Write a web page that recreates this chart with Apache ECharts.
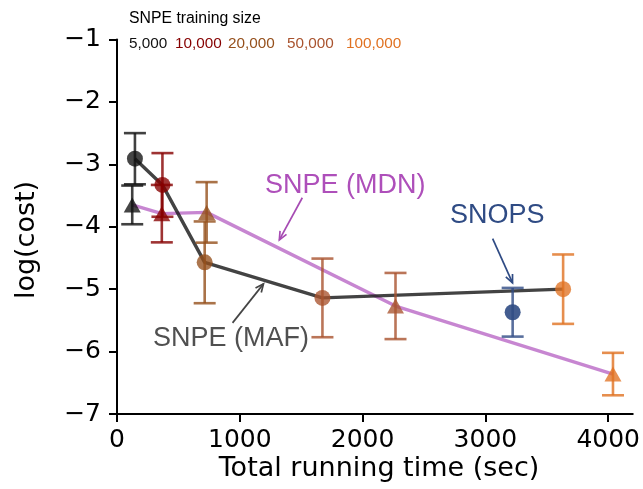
<!DOCTYPE html>
<html>
<head>
<meta charset="utf-8">
<script src="https://cdn.jsdelivr.net/npm/echarts@6/dist/echarts.min.js"></script>
<style>
  html, body { margin: 0; padding: 0; background: #fff; }
  #chart { width: 643px; height: 489px; }
</style>
</head>
<body>
<div id="chart"></div>
<script>
// SNPE training sizes and their colours
const trainingSizes = ['5,000', '10,000', '20,000', '50,000', '100,000'];
const sizeColors = ['#111111', '#860000', '#95501c', '#a9532e', '#e07222'];

// SNPE (MAF): running time (sec), log(cost) mean and error
const mafTime = [146, 370, 714, 1673, 3633];
const mafMean = [-2.91, -3.33, -4.57, -5.14, -5.00];
const mafErr  = [0.41, 0.51, 0.655, 0.63, 0.556];

// SNPE (MDN)
const mdnTime = [124, 365, 730, 2268, 4039];
const mdnMean = [-3.65, -3.79, -3.77, -5.27, -6.36];
const mdnErr  = [0.31, 0.46, 0.485, 0.53, 0.34];

// SNOPS
const snopsTime = [3222];
const snopsMean = [-5.37];
const snopsErr  = [0.39];
const snopsColor = '#2f4b84';

// axis ticks
const xTicks = [0, 1000, 2000, 3000, 4000];
const yTicks = [-7, -6, -5, -4, -3, -2, -1];

// annotation arrows: [fromTime, fromCost, toTime, toCost, colour]
const arrows = [
  [1509, -3.535, 1322, -4.21, '#a64bb3'],
  [941, -5.54, 1193, -4.915, '#444444'],
  [3059, -4.19, 3221, -4.90, snopsColor]
];

const chart = echarts.init(document.getElementById('chart'), null, { renderer: 'canvas' });

function errRows(times, means, errs, colors) {
  return times.map((t, i) => [t, means[i] - errs[i], means[i] + errs[i], colors[i]]);
}

function errorBarItem(params, api) {
  const x = api.value(0);
  const lo = api.coord([x, api.value(1)]);
  const hi = api.coord([x, api.value(2)]);
  const color = api.value(3);
  const half = 11;
  const style = { stroke: color, lineWidth: 2.6, opacity: 0.8 };
  return {
    type: 'group',
    children: [
      { type: 'line', shape: { x1: lo[0], y1: lo[1], x2: hi[0], y2: hi[1] }, style },
      { type: 'line', shape: { x1: lo[0] - half, y1: lo[1], x2: lo[0] + half, y2: lo[1] }, style },
      { type: 'line', shape: { x1: hi[0] - half, y1: hi[1], x2: hi[0] + half, y2: hi[1] }, style }
    ]
  };
}

// open "->" arrow from one data point to another
function arrowItem(params, api) {
  const a = api.coord([api.value(0), api.value(1)]);
  const b = api.coord([api.value(2), api.value(3)]);
  const color = arrows[params.dataIndex][4];
  const ang = Math.atan2(b[1] - a[1], b[0] - a[0]);
  const len = 9, spread = 0.42;
  const p1 = [b[0] - len * Math.cos(ang - spread), b[1] - len * Math.sin(ang - spread)];
  const p2 = [b[0] - len * Math.cos(ang + spread), b[1] - len * Math.sin(ang + spread)];
  const style = { stroke: color, lineWidth: 1.7, fill: null };
  return {
    type: 'group',
    children: [
      { type: 'line', shape: { x1: a[0], y1: a[1], x2: b[0], y2: b[1] }, style },
      { type: 'polyline', shape: { points: [p1, b, p2] }, style }
    ]
  };
}

function pointRows(times, means, colors) {
  return times.map((t, i) => ({ value: [t, means[i]], itemStyle: { color: colors[i] } }));
}

const minusFmt = v => (v < 0 ? '\u2212' + Math.abs(v) : String(v));

const textFont = '"Liberation Sans", Arial, sans-serif';
const axisFont = '"DejaVu Sans", sans-serif';

const legendX = [129, 175, 228, 287, 346];

chart.setOption({
  animation: false,
  backgroundColor: '#fff',
  grid: { left: 117, right: 9, top: 39.5, bottom: 75 },
  xAxis: {
    type: 'value', min: 0, max: 4200, interval: 1000,
    axisLine: { show: true, onZero: false, lineStyle: { color: '#000', width: 2 } },
    axisTick: { show: true, length: 8, customValues: xTicks, lineStyle: { color: '#000', width: 2 } },
    axisLabel: { customValues: xTicks, color: '#000', fontSize: 25, fontFamily: axisFont, margin: 14, formatter: v => String(v) },
    splitLine: { show: false }
  },
  yAxis: {
    type: 'value', min: -7, max: -1, interval: 1,
    axisLine: { show: true, onZero: false, lineStyle: { color: '#000', width: 2 } },
    axisTick: { show: true, length: 8, customValues: yTicks, lineStyle: { color: '#000', width: 2 } },
    axisLabel: { customValues: yTicks, color: '#000', fontSize: 25, fontFamily: axisFont, margin: 16, formatter: minusFmt },
    splitLine: { show: false }
  },
  series: [
    {
      name: 'SNPE (MDN)', type: 'line', z: 2, symbol: 'none',
      data: mdnTime.map((t, i) => [t, mdnMean[i]]),
      lineStyle: { color: '#b45ec2', width: 3.4, opacity: 0.75 }
    },
    {
      name: 'SNPE (MAF)', type: 'line', z: 2, symbol: 'none',
      data: mafTime.map((t, i) => [t, mafMean[i]]),
      lineStyle: { color: '#1a1a1a', width: 3.4, opacity: 0.82 }
    },
    {
      type: 'custom', z: 3, renderItem: errorBarItem,
      encode: { x: 0, y: [1, 2] },
      data: errRows(mafTime, mafMean, mafErr, sizeColors)
    },
    {
      type: 'custom', z: 3, renderItem: errorBarItem,
      encode: { x: 0, y: [1, 2] },
      data: errRows(mdnTime, mdnMean, mdnErr, sizeColors)
    },
    {
      type: 'custom', z: 3, renderItem: errorBarItem,
      encode: { x: 0, y: [1, 2] },
      data: errRows(snopsTime, snopsMean, snopsErr, [snopsColor])
    },
    {
      type: 'scatter', z: 4, symbol: 'circle', symbolSize: 16,
      itemStyle: { opacity: 0.78 },
      data: pointRows(mafTime, mafMean, sizeColors)
    },
    {
      type: 'scatter', z: 4, symbol: 'triangle', symbolSize: [17, 15],
      itemStyle: { opacity: 0.78 },
      data: pointRows(mdnTime, mdnMean, sizeColors)
    },
    {
      type: 'scatter', z: 4, symbol: 'circle', symbolSize: 16,
      itemStyle: { opacity: 0.9 },
      data: pointRows(snopsTime, snopsMean, [snopsColor])
    },
    {
      type: 'custom', z: 5, silent: true, renderItem: arrowItem,
      encode: { x: [0, 2], y: [1, 3] },
      data: arrows.map(a => [a[0], a[1], a[2], a[3]])
    }
  ],
  graphic: [
    { type: 'text', left: 129, top: 11, style: { text: 'SNPE training size', font: '15.8px ' + textFont, fill: '#000' } },
    ...trainingSizes.map((s, i) => ({
      type: 'text', left: legendX[i], top: 36,
      style: { text: s, font: '15.3px ' + textFont, fill: sizeColors[i] }
    })),
    { type: 'text', left: 265, top: 172, style: { text: 'SNPE (MDN)', font: '27px ' + textFont, fill: '#ae4fba' } },
    { type: 'text', left: 153, top: 325, style: { text: 'SNPE (MAF)', font: '27px ' + textFont, fill: '#505050' } },
    { type: 'text', left: 450, top: 202, style: { text: 'SNOPS', font: '27px ' + textFont, fill: snopsColor } },
    {
      type: 'text', x: 379, y: 469,
      style: { text: 'Total running time (sec)', font: '27px ' + axisFont, fill: '#000', textAlign: 'center', textVerticalAlign: 'middle' }
    },
    {
      type: 'text', x: 27, y: 240, rotation: Math.PI / 2,
      style: { text: 'log(cost)', font: '27px ' + axisFont, fill: '#000', textAlign: 'center', textVerticalAlign: 'middle' }
    }
  ]
});
</script>
</body>
</html>
